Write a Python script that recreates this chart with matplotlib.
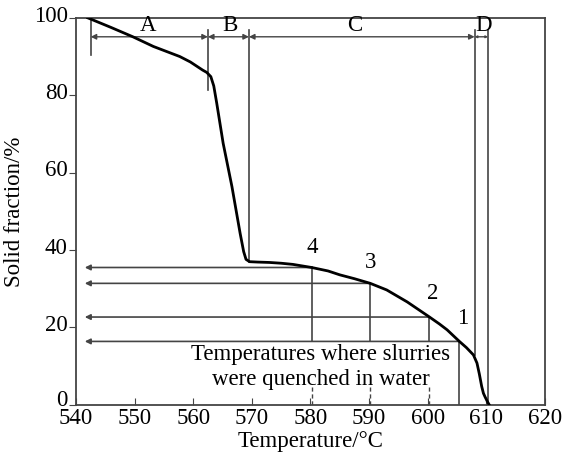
import numpy as np
import matplotlib.pyplot as plt
from matplotlib.transforms import ScaledTranslation

plt.rcParams['font.family'] = ['Liberation Serif', 'DejaVu Serif']

# solid fraction curve
temp = [542.0, 546.0, 549.7, 553.2, 557.7, 559.5, 560.5, 561.6, 562.3, 563.0, 563.5, 564.0,
        565.1, 566.6, 568.0, 568.6, 569.0, 569.6, 571.0, 573.0, 575.0, 577.0, 580.2,
        583.0, 585.0, 587.5, 590.2, 593.0, 596.5, 600.3, 602.0, 603.3, 605.4,
        606.6, 607.8, 608.4, 608.8, 609.2, 609.5, 609.8, 610.2, 610.5]
frac = [100.0, 97.5, 95.1, 92.6, 90.0, 88.6, 87.6, 86.5, 85.9, 84.8, 82.4, 78.0,
        67.6, 56.4, 44.3, 39.6, 37.6, 37.0, 36.9, 36.8, 36.6, 36.3, 35.5,
        34.6, 33.6, 32.6, 31.4, 29.7, 26.6, 22.7, 20.9, 19.4, 16.4,
        14.8, 12.9, 10.8, 8.0, 4.8, 3.0, 2.0, 0.8, 0.0]

# region boundaries (A, B, C, D)
bounds = [542.5, 562.5, 569.5, 608.0, 610.3]
regions = ['A', 'B', 'C', 'D']
region_x = [552.3, 566.3, 587.6, 609.5]

# quench points
q_labels = ['1', '2', '3', '4']
q_temp = [605.4, 600.3, 590.2, 580.2]
q_frac = [16.4, 22.7, 31.4, 35.5]
q_lab_x = [605.9, 600.8, 590.2, 580.3]
q_lab_y = [19.6, 26.0, 34.0, 37.9]

fig = plt.figure(figsize=(5.63, 4.57), dpi=100)
ax = fig.add_axes([0.135, 0.114, 0.833, 0.847])

lc = '#444444'
fs = 16.5
ax.plot(temp, frac, color='black', lw=2.0, zorder=5)

# vertical boundary lines
ax.plot([bounds[0]] * 2, [90.4, 100], color=lc, lw=1.2)
ax.plot([bounds[1]] * 2, [81.4, 96.9], color=lc, lw=1.2)
ax.plot([bounds[2]] * 2, [37.0, 96.9], color=lc, lw=1.2)
ax.plot([bounds[3]] * 2, [13.0, 96.9], color=lc, lw=1.2)
ax.plot([bounds[4]] * 2, [0, 96.9], color=lc, lw=1.2)

ya = 95.1
for i, lab in enumerate(regions):
    hw = 4 if i < 3 else 1.5
    ax.annotate('', xy=(bounds[i], ya), xytext=(bounds[i + 1], ya),
                arrowprops=dict(arrowstyle='<|-|>', color=lc, lw=1.0,
                                mutation_scale=hw * 2, shrinkA=0, shrinkB=0))
    ax.text(region_x[i], ya + 0.3, lab, ha='center', va='bottom', fontsize=fs)

# quench lines
for t, f, lab, lx, ly in zip(q_temp, q_frac, q_labels, q_lab_x, q_lab_y):
    ax.annotate('', xy=(541.5, f), xytext=(t, f),
                arrowprops=dict(arrowstyle='-|>', color=lc, lw=1.2,
                                mutation_scale=8, shrinkA=0, shrinkB=0))
    if lab == '1':
        ax.plot([t, t], [0, f], color=lc, lw=1.2)
    else:
        ax.plot([t, t], [q_frac[0], f], color=lc, lw=1.2)
        ax.plot([t, t], [0, 4.5], color=lc, lw=1.0, ls=(0, (3, 2)))
    ax.text(lx, ly, lab, ha='center', va='bottom', fontsize=fs)

ax.text(581.8, 11.6, 'Temperatures where slurries', ha='center', va='baseline', fontsize=fs)
ax.text(581.8, 5.2, 'were quenched in water', ha='center', va='baseline', fontsize=fs)

ax.set_xlim(540, 620)
ax.set_ylim(0, 100)
ax.set_xticks(np.arange(540, 621, 10))
ax.set_yticks(np.arange(0, 101, 20))
ax.tick_params(axis='x', direction='in', length=5, labelsize=fs, color=lc, pad=2)
ax.tick_params(axis='y', direction='out', length=5, labelsize=fs, color=lc, pad=1)
for s in ax.spines.values():
    s.set_color(lc)
    s.set_linewidth(1.3)
ax.set_xlabel('Temperature/°C', fontsize=fs, labelpad=2)
ax.set_ylabel('Solid fraction/%', fontsize=fs, labelpad=6)

# y tick labels sit a little above their ticks in the original, the 0 most of all
for k, tk in enumerate(ax.yaxis.get_major_ticks()):
    dy = 5 if k == 0 else 3
    shift = ScaledTranslation(0, dy / 72, fig.dpi_scale_trans)
    tk.label1.set_transform(tk.label1.get_transform() + shift)

fig.savefig('out.png', dpi=100)
